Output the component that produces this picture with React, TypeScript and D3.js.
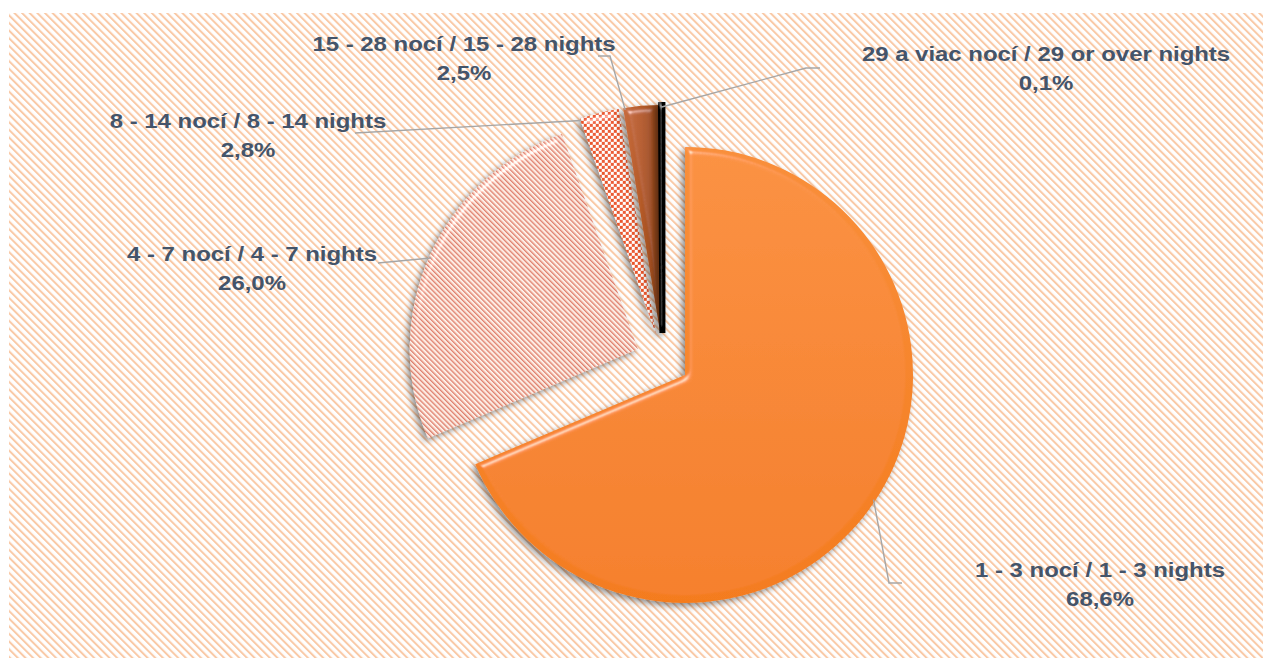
import React from 'react';
import * as d3 from 'd3';

// data
const categories = [
  '1 - 3 nocí / 1 - 3 nights',
  '4 - 7 nocí / 4 - 7 nights',
  '8 - 14 nocí / 8 - 14 nights',
  '15 - 28 nocí / 15 - 28 nights',
  '29 a viac nocí / 29 or over nights',
];
const shares = [68.6, 26.0, 2.8, 2.5, 0.1];
const percentLabels = ['68,6%', '26,0%', '2,8%', '2,5%', '0,1%'];

const width = 1271;
const height = 663;
const center = { x: 662.5, y: 360 };
const radius = 228;
const explode = 27;

// label layout (centre x, first baseline)
const labelPos = [
  { x: 1100, y: 577 },
  { x: 252, y: 261 },
  { x: 248, y: 128 },
  { x: 464, y: 51 },
  { x: 1046, y: 61 },
];
// where on the slice the leader attaches (0 = start angle, 1 = end)
const anchorFrac = [0.5, 0.5, 0.02, 0.05, 0.5];
// leader points on the label side
const leaderKnees: [number, number][][] = [
  [[889, 583], [902, 583]],
  [[378, 263]],
  [[355, 133]],
  [[610, 56], [598, 56]],
  [[806, 68], [820, 68]],
];

const fills = ['url(#gOrange)', 'url(#pStripe)', 'url(#pCheck)', 'url(#gBrown)', '#000000'];

const App: React.FC = () => {
  const pie = d3
    .pie<number>()
    .sort(null)
    .startAngle(0)
    .endAngle(2 * Math.PI)(shares);

  const arc = d3.arc<d3.PieArcDatum<number>>().innerRadius(0).outerRadius(radius);

  const slices = pie.map((d, i) => {
    const mid = (d.startAngle + d.endAngle) / 2;
    const ox = center.x + explode * Math.sin(mid);
    const oy = center.y - explode * Math.cos(mid);
    const a = d.startAngle + (d.endAngle - d.startAngle) * anchorFrac[i];
    const anchor: [number, number] = [ox + (radius - 2) * Math.sin(a), oy - (radius - 2) * Math.cos(a)];
    return { d, i, ox, oy, anchor };
  });

  const line = d3.line();

  return (
    <svg
      width={width}
      height={height}
      style={{ position: 'absolute', left: 0, top: 0, background: '#fff' }}
      fontFamily="'Liberation Sans', Arial, sans-serif"
    >
      <defs>
        <pattern id="pBg" width="5.4" height="5.4" patternUnits="userSpaceOnUse" patternTransform="rotate(-45)">
          <rect width="5.4" height="5.4" fill="#ffffff" />
          <rect width="2" height="5.4" fill="#f9c9a6" />
        </pattern>
        <pattern id="pStripe" width="3.6" height="3.6" patternUnits="userSpaceOnUse" patternTransform="rotate(-45)">
          <rect width="3.6" height="3.6" fill="#fdf3ee" />
          <rect width="1.4" height="3.6" fill="#dc7d6c" />
          <rect x="1.4" width="0.6" height="3.6" fill="#f3b79c" />
        </pattern>
        <pattern id="pCheck" width="6" height="6" patternUnits="userSpaceOnUse">
          <rect width="6" height="6" fill="#ffffff" />
          <rect width="3" height="3" fill="#e9552b" />
          <rect x="3" y="3" width="3" height="3" fill="#e9552b" />
        </pattern>
        <linearGradient id="gOrange" x1="0" y1="0" x2="0" y2="1">
          <stop offset="0" stopColor="#f98f3b" />
          <stop offset="1" stopColor="#f47c1f" />
        </linearGradient>
        <linearGradient id="gBrown" x1="0" y1="0" x2="1" y2="0">
          <stop offset="0" stopColor="#c86d3f" />
          <stop offset="0.5" stopColor="#b45a28" />
          <stop offset="1" stopColor="#8f4418" />
        </linearGradient>
        <filter id="bevel" filterUnits="userSpaceOnUse" x={-300} y={-300} width={600} height={600}>
          <feGaussianBlur in="SourceAlpha" stdDeviation="3" result="blur" />
          <feSpecularLighting
            in="blur"
            surfaceScale="5"
            specularConstant="0.9"
            specularExponent="38"
            lightingColor="#ffffff"
            result="spec"
          >
            <feDistantLight azimuth="235" elevation="42" />
          </feSpecularLighting>
          <feComposite in="spec" in2="SourceAlpha" operator="in" result="specIn" />
          <feComposite in="SourceGraphic" in2="specIn" operator="arithmetic" k1="0" k2="1" k3="0.5" k4="0" result="lit" />
          <feDropShadow in="lit" dx="-3" dy="3" stdDeviation="3" floodColor="#000" floodOpacity="0.45" />
        </filter>
      </defs>

      {/* chart area */}
      <rect x={9} y={13} width={1254} height={645} fill="url(#pBg)" />

      {/* slices */}
      {slices.map(({ d, i, ox, oy }) => (
        <g key={categories[i]} transform={`translate(${ox},${oy})`} filter="url(#bevel)">
          <path
            d={arc(d) || ''}
            fill={fills[i]}
            stroke={i === 4 ? '#000' : 'none'}
            strokeWidth={i === 4 ? 6 : 0}
            strokeLinejoin="miter"
            strokeMiterlimit={100}
          />
        </g>
      ))}

      {/* leader lines */}
      {slices.map(({ i, anchor }) => (
        <path
          key={`l${i}`}
          d={line([anchor, ...leaderKnees[i]]) || ''}
          fill="none"
          stroke="#a6a6a6"
          strokeWidth={1.4}
        />
      ))}

      {/* labels */}
      {categories.map((c, i) => (
        <g key={`t${i}`} transform={`translate(${labelPos[i].x},${labelPos[i].y}) scale(1.14,1)`}>
          <text textAnchor="middle" fontSize={21} fontWeight="bold" fill="#44546a">
            {c}
          </text>
          <text y={29} textAnchor="middle" fontSize={21} fontWeight="bold" fill="#44546a">
            {percentLabels[i]}
          </text>
        </g>
      ))}
    </svg>
  );
};

export default App;
